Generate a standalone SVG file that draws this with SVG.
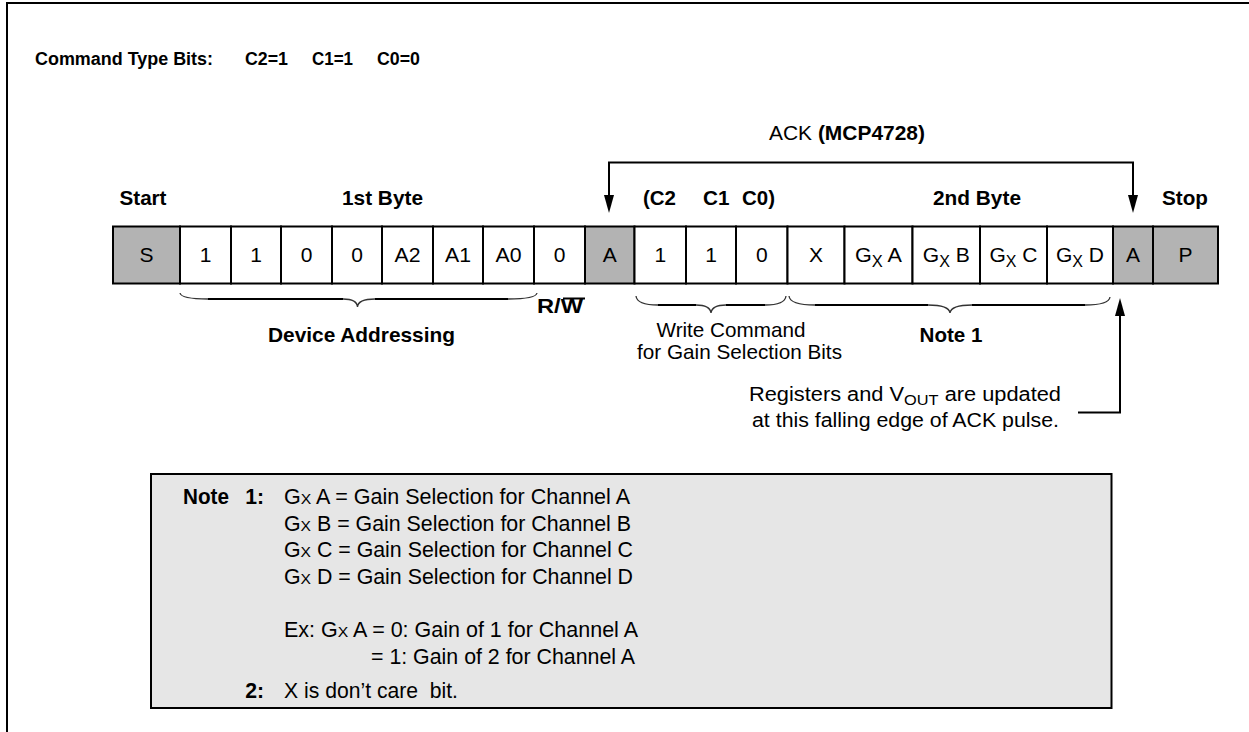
<svg xmlns="http://www.w3.org/2000/svg" width="1249" height="732" viewBox="0 0 1249 732">
<defs>
<style>
text{font-family:"Liberation Sans",Arial,Helvetica,sans-serif;fill:#000}
.b{font-weight:bold}
.t16{font-size:18px}
.t18{font-size:20.8px}
.t185{font-size:21.2px}
.t20{font-size:20px}
.rw{font-size:20px}
.cell{fill:#fff;stroke:#000;stroke-width:2}
.gray{fill:#b3b3b3}
.ct{font-size:21px;text-anchor:middle}
.mid{text-anchor:middle}
.end{text-anchor:end}
.ln{fill:none;stroke:#000;stroke-width:2}
.cv{fill:none;stroke:#333;stroke-width:1.3}
</style>
<marker id="ah" viewBox="0 0 18 10" refX="8" refY="5" markerWidth="18" markerHeight="10" markerUnits="userSpaceOnUse" orient="auto-start-reverse">
<path d="M0,0 L18,5 L0,10 z" fill="#000"/>
</marker>
</defs>
<rect width="1249" height="732" fill="#fff"/>
<path d="M7,732 V3 H1249" class="ln"/>

<g id="title">
<text class="b t16" x="35" y="65" textLength="178" lengthAdjust="spacingAndGlyphs">Command Type Bits:</text>
<text class="b t16" x="245" y="65" textLength="43" lengthAdjust="spacingAndGlyphs">C2=1</text>
<text class="b t16" x="312" y="65" textLength="41" lengthAdjust="spacingAndGlyphs">C1=1</text>
<text class="b t16" x="377" y="65" textLength="43" lengthAdjust="spacingAndGlyphs">C0=0</text>
</g>

<g id="labels">
<text class="t18" x="769" y="140" textLength="156" lengthAdjust="spacingAndGlyphs">ACK <tspan class="b">(MCP4728)</tspan></text>
<text class="b t18 mid" x="143" y="204.5" textLength="47" lengthAdjust="spacingAndGlyphs">Start</text>
<text class="b t18" x="342" y="204.5" textLength="81" lengthAdjust="spacingAndGlyphs">1st Byte</text>
<text class="b t18" x="643" y="204.5" textLength="33" lengthAdjust="spacingAndGlyphs">(C2</text>
<text class="b t18" x="703" y="204.5" textLength="26.5" lengthAdjust="spacingAndGlyphs">C1</text>
<text class="b t18" x="742" y="204.5" textLength="33" lengthAdjust="spacingAndGlyphs">C0)</text>
<text class="b t18" x="933" y="204.5" textLength="88" lengthAdjust="spacingAndGlyphs">2nd Byte</text>
<text class="b t18 mid" x="1185" y="204.5" textLength="46" lengthAdjust="spacingAndGlyphs">Stop</text>
</g>

<g id="cell-S"><rect class="cell gray" x="113" y="226.5" width="67" height="57"/><text class="ct" x="146.5" y="262">S</text></g>
<g id="cell-b7"><rect class="cell" x="180" y="226.5" width="51" height="57"/><text class="ct" x="205.5" y="262">1</text></g>
<g id="cell-b6"><rect class="cell" x="231" y="226.5" width="50" height="57"/><text class="ct" x="256" y="262">1</text></g>
<g id="cell-b5"><rect class="cell" x="281" y="226.5" width="51" height="57"/><text class="ct" x="306.5" y="262">0</text></g>
<g id="cell-b4"><rect class="cell" x="332" y="226.5" width="50" height="57"/><text class="ct" x="357" y="262">0</text></g>
<g id="cell-A2"><rect class="cell" x="382" y="226.5" width="51" height="57"/><text class="ct" x="407.5" y="262" textLength="26" lengthAdjust="spacingAndGlyphs">A2</text></g>
<g id="cell-A1"><rect class="cell" x="433" y="226.5" width="50" height="57"/><text class="ct" x="458" y="262" textLength="26" lengthAdjust="spacingAndGlyphs">A1</text></g>
<g id="cell-A0"><rect class="cell" x="483" y="226.5" width="51" height="57"/><text class="ct" x="508.5" y="262" textLength="26" lengthAdjust="spacingAndGlyphs">A0</text></g>
<g id="cell-RW"><rect class="cell" x="534" y="226.5" width="51" height="57"/><text class="ct" x="559.5" y="262">0</text></g>
<g id="cell-A-1"><rect class="cell gray" x="585" y="226.5" width="49.5" height="57"/><text class="ct" x="609.75" y="262">A</text></g>
<g id="cell-C2"><rect class="cell" x="634.5" y="226.5" width="51.5" height="57"/><text class="ct" x="660.25" y="262">1</text></g>
<g id="cell-C1"><rect class="cell" x="686" y="226.5" width="50" height="57"/><text class="ct" x="711" y="262">1</text></g>
<g id="cell-C0"><rect class="cell" x="736" y="226.5" width="51.5" height="57"/><text class="ct" x="761.75" y="262">0</text></g>
<g id="cell-X"><rect class="cell" x="787.5" y="226.5" width="57" height="57"/><text class="ct" x="816" y="262">X</text></g>
<g id="cell-GxA"><rect class="cell" x="844.5" y="226.5" width="68" height="57"/><text class="ct" x="878.5" y="262" textLength="47" lengthAdjust="spacingAndGlyphs">G<tspan font-size="16" dy="5">X</tspan><tspan dy="-5"> A</tspan></text></g>
<g id="cell-GxB"><rect class="cell" x="912.5" y="226.5" width="67.5" height="57"/><text class="ct" x="946.25" y="262" textLength="47" lengthAdjust="spacingAndGlyphs">G<tspan font-size="16" dy="5">X</tspan><tspan dy="-5"> B</tspan></text></g>
<g id="cell-GxC"><rect class="cell" x="980" y="226.5" width="67" height="57"/><text class="ct" x="1013.5" y="262" textLength="48" lengthAdjust="spacingAndGlyphs">G<tspan font-size="16" dy="5">X</tspan><tspan dy="-5"> C</tspan></text></g>
<g id="cell-GxD"><rect class="cell" x="1047" y="226.5" width="66" height="57"/><text class="ct" x="1080" y="262" textLength="48" lengthAdjust="spacingAndGlyphs">G<tspan font-size="16" dy="5">X</tspan><tspan dy="-5"> D</tspan></text></g>
<g id="cell-A-2"><rect class="cell gray" x="1113" y="226.5" width="40" height="57"/><text class="ct" x="1133" y="262">A</text></g>
<g id="cell-P"><rect class="cell gray" x="1153" y="226.5" width="65" height="57"/><text class="ct" x="1185.5" y="262">P</text></g>

<g id="connectors">
<path class="ln" d="M609,203 V162.5 H1133 V203" marker-start="url(#ah)" marker-end="url(#ah)"/>
<path class="ln" d="M1078,412.5 H1120 V308" marker-end="url(#ah)"/>
<path class="cv" d="M180,293 Q181,299 208,299 M343,299 Q357,299 357.5,307 Q358,299 375,299 M508,299 Q536,299 537,293"/>
<path class="ln" d="M208,299 H343 M375,299 H508"/>
<path class="cv" d="M636,296 Q637,305 658,305 M696,305 Q710,305 711,313 Q712,305 726,305 M765,305 Q785,305 786,296"/>
<path class="ln" d="M658,305 H696 M726,305 H765"/>
<path class="cv" d="M789,296 Q790,305 815,305 M928,305 Q949,305 950,313 Q951,305 972,305 M1085,305 Q1109,305 1110,297"/>
<path class="ln" d="M815,305 H928 M972,305 H1085"/>
<line class="ln" x1="563" y1="298.5" x2="585" y2="298.5"/>
</g>

<g id="annotations">
<text class="b rw" x="537" y="313" textLength="46" lengthAdjust="spacingAndGlyphs">R/W</text>
<text class="b t18" x="268" y="342" textLength="187" lengthAdjust="spacingAndGlyphs">Device Addressing</text>
<text class="t18 mid" x="731" y="337" textLength="149" lengthAdjust="spacingAndGlyphs">Write Command</text>
<text class="t18 mid" x="739.5" y="359" textLength="205" lengthAdjust="spacingAndGlyphs">for Gain Selection Bits</text>
<text class="b t18 mid" x="951" y="342" textLength="63" lengthAdjust="spacingAndGlyphs">Note 1</text>
<text class="t20" x="749" y="401" textLength="312" lengthAdjust="spacingAndGlyphs">Registers and V<tspan font-size="15" dy="4">OUT</tspan><tspan dy="-4"> are updated</tspan></text>
<text class="t20" x="752" y="427" textLength="307" lengthAdjust="spacingAndGlyphs">at this falling edge of ACK pulse.</text>
</g>

<g id="notes">
<rect x="151" y="474" width="960.5" height="234" fill="#e6e6e6" stroke="#000" stroke-width="2"/>
<text class="b t185" x="183" y="504" textLength="46" lengthAdjust="spacingAndGlyphs">Note</text>
<text class="b t185 end" x="264" y="504">1:</text>
<text class="t185" x="284" y="504" textLength="346" lengthAdjust="spacingAndGlyphs">G<tspan font-size="15.5">X</tspan> A = Gain Selection for Channel A</text>
<text class="t185" x="284" y="530.7" textLength="347" lengthAdjust="spacingAndGlyphs">G<tspan font-size="15.5">X</tspan> B = Gain Selection for Channel B</text>
<text class="t185" x="284" y="557.3" textLength="349" lengthAdjust="spacingAndGlyphs">G<tspan font-size="15.5">X</tspan> C = Gain Selection for Channel C</text>
<text class="t185" x="284" y="584" textLength="349" lengthAdjust="spacingAndGlyphs">G<tspan font-size="15.5">X</tspan> D = Gain Selection for Channel D</text>
<text class="t185" x="284" y="637.3" textLength="354" lengthAdjust="spacingAndGlyphs">Ex: G<tspan font-size="15.5">X</tspan> A = 0: Gain of 1 for Channel A</text>
<text class="t185" x="371" y="664" textLength="264" lengthAdjust="spacingAndGlyphs">= 1: Gain of 2 for Channel A</text>
<text class="b t185 end" x="264" y="698">2:</text>
<text class="t185" x="284" y="698" textLength="174" lengthAdjust="spacingAndGlyphs" xml:space="preserve">X is don’t care  bit.</text>
</g>
</svg>
